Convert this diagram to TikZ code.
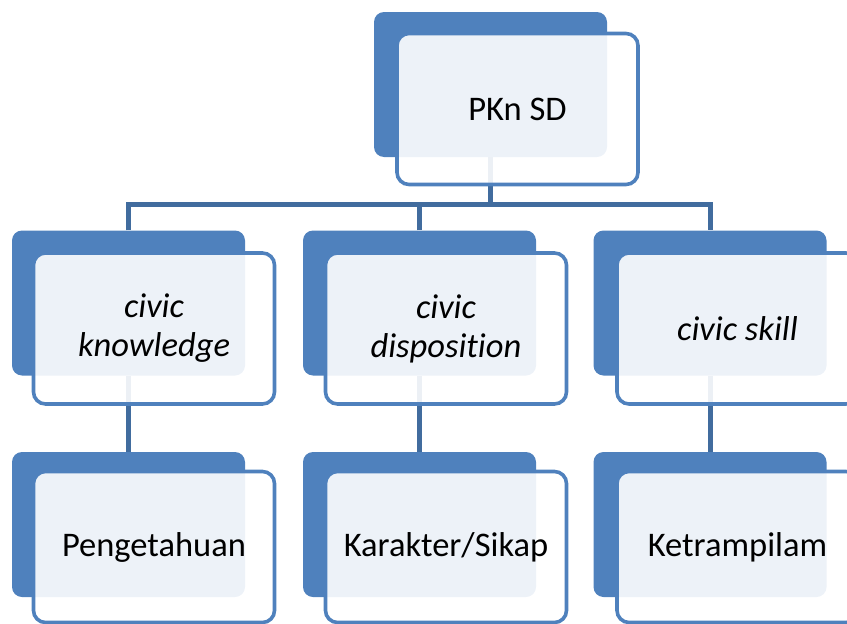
\documentclass[tikz,border=0pt]{standalone}
\usepackage{fontspec}
\setmainfont[Ligatures={NoCommon,NoContextual,NoRare}]{Carlito}
\definecolor{backblue}{RGB}{79,129,189}
\definecolor{lineblue}{RGB}{65,108,158}
\tikzset{
  backbox/.style={draw=none, fill=backblue, rounded corners=10pt, minimum width=233pt, minimum height=145pt, inner sep=0pt},
  frontbox/.style={draw=backblue, line width=3.6pt, fill=white, fill opacity=0.9, text opacity=1, rounded corners=12pt, minimum width=241pt, minimum height=151pt, inner sep=0pt, align=center, font=\fontsize{34.5}{39}\selectfont, text=black},
  conn/.style={draw=lineblue, line width=5pt}
}
\begin{document}
\begin{tikzpicture}[x=1pt,y=-1pt]
\useasboundingbox (0,0) rectangle (847,624);
\clip (0,0) rectangle (847,624);
% back boxes
\node[backbox] (b0) at (490.5,84.5) {};
\node[backbox] (b1) at (128.5,303) {};
\node[backbox] (b2) at (419.5,303) {};
\node[backbox] (b3) at (710,303) {};
\node[backbox] (b4) at (128.5,524.5) {};
\node[backbox] (b5) at (419.5,524.5) {};
\node[backbox] (b6) at (710,524.5) {};
% connectors
\coordinate (h0) at (490.5,204);
\draw[conn] (b0.south) -- (h0);
\draw[conn] (b1.north) |- (h0) -| (b3.north);
\draw[conn] (b2.north) -- (b2.north |- h0);
\draw[conn] (b1.south) -- (b4.north);
\draw[conn] (b2.south) -- (b5.north);
\draw[conn] (b3.south) -- (b6.north);
% front boxes
\node[frontbox] (f0) at (517.5,109) {PKn SD};
\node[frontbox] (f1) at (154,328.5) {\itshape civic\\\itshape knowledge};
\node[frontbox] (f2) at (446,328.5) {\itshape civic\\\itshape disposit\kern0pt ion};
\node[frontbox] (f3) at (737.5,328.5) {\itshape civic skill};
\node[frontbox] (f4) at (154,547) {Pengetahuan};
\node[frontbox] (f5) at (446,547) {Karakter/Sikap};
\node[frontbox] (f6) at (737.5,547) {Ketrampilam};
\end{tikzpicture}
\end{document}
